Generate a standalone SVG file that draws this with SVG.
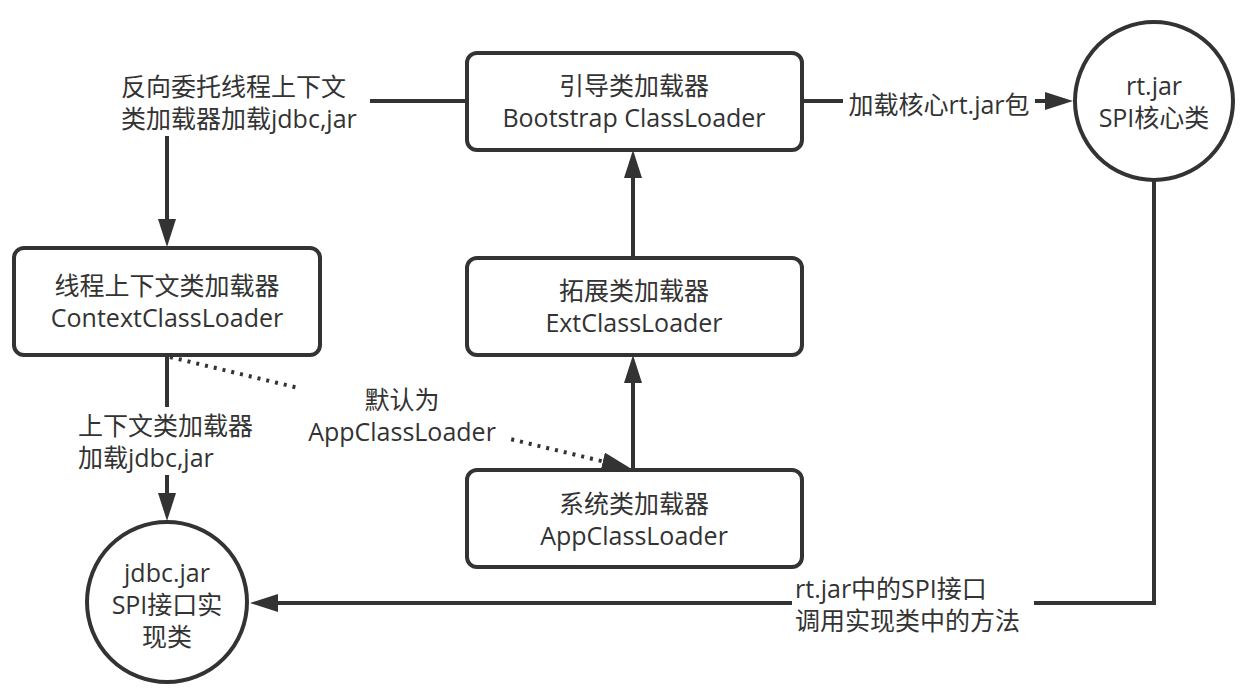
<svg xmlns="http://www.w3.org/2000/svg" width="1251" height="697" viewBox="0 0 1251 697">
<style>
.node{fill:#fff;stroke:#333;stroke-width:4}
.edge{fill:none;stroke:#333;stroke-width:4}
.dot{stroke-dasharray:3 6}
.bg{fill:#fff;stroke:none}
text{font-family:"Open Sans","Noto Sans CJK SC",sans-serif;font-size:25px;fill:#333}
.c{text-anchor:middle}
</style>
<defs>
<marker id="arr" markerUnits="userSpaceOnUse" markerWidth="30" markerHeight="20" refX="18" refY="9" orient="auto">
<path d="M0,0 L28,9 L0,18 z" fill="#333"/>
</marker>
</defs>
<rect width="1251" height="697" fill="#fff"/>
<g id="connectors">
<path class="edge" d="M467,101 H167 V237" marker-end="url(#arr)"/>
<path class="edge" d="M167,355 V511" marker-end="url(#arr)"/>
<path class="edge dot" d="M170,357 L620.3,465.6" marker-end="url(#arr)"/>
<path class="edge" d="M633,470 V365" marker-end="url(#arr)"/>
<path class="edge" d="M633,258 V160" marker-end="url(#arr)"/>
<path class="edge" d="M802,101 H1063" marker-end="url(#arr)"/>
<path class="edge" d="M1154,180 V603 H260" marker-end="url(#arr)"/>
<rect class="bg" x="118" y="72" width="252" height="64"/>
<text x="121" y="96">反向委托线程上下文</text>
<text x="121" y="128">类加载器加载jdbc,jar</text>
<rect class="bg" x="75" y="407" width="190" height="68"/>
<text x="78" y="435">上下文类加载器</text>
<text x="78" y="467">加载jdbc,jar</text>
<rect class="bg" x="300" y="380" width="208" height="68"/>
<text class="c" x="402" y="409">默认为</text>
<text class="c" x="402" y="441">AppClassLoader</text>
<rect class="bg" x="843" y="86" width="192" height="36"/>
<text class="c" x="939" y="114">加载核心rt.jar包</text>
<rect class="bg" x="792" y="574" width="242" height="70"/>
<text x="795" y="598">rt.jar中的SPI接口</text>
<text x="795" y="630">调用实现类中的方法</text>
</g>
<g id="bootstrap">
<rect class="node" x="467" y="53" width="335" height="97" rx="10"/>
<text class="c" x="634" y="95">引导类加载器</text>
<text class="c" x="634" y="127">Bootstrap ClassLoader</text>
</g>
<g id="ext">
<rect class="node" x="467" y="258" width="335" height="97" rx="10"/>
<text class="c" x="634" y="300">拓展类加载器</text>
<text class="c" x="634" y="332">ExtClassLoader</text>
</g>
<g id="app">
<rect class="node" x="467" y="470" width="335" height="97" rx="10"/>
<text class="c" x="634" y="513">系统类加载器</text>
<text class="c" x="634" y="545">AppClassLoader</text>
</g>
<g id="context">
<rect class="node" x="14" y="248" width="306" height="107" rx="10"/>
<text class="c" x="167" y="295">线程上下文类加载器</text>
<text class="c" x="167" y="327">ContextClassLoader</text>
</g>
<g id="rtjar">
<circle class="node" cx="1154" cy="101" r="79"/>
<text class="c" x="1154" y="95">rt.jar</text>
<text class="c" x="1154" y="127">SPI核心类</text>
</g>
<g id="jdbcjar">
<circle class="node" cx="167" cy="602" r="80"/>
<text class="c" x="167" y="582">jdbc.jar</text>
<text class="c" x="167" y="614">SPI接口实</text>
<text class="c" x="167" y="646">现类</text>
</g>
</svg>
